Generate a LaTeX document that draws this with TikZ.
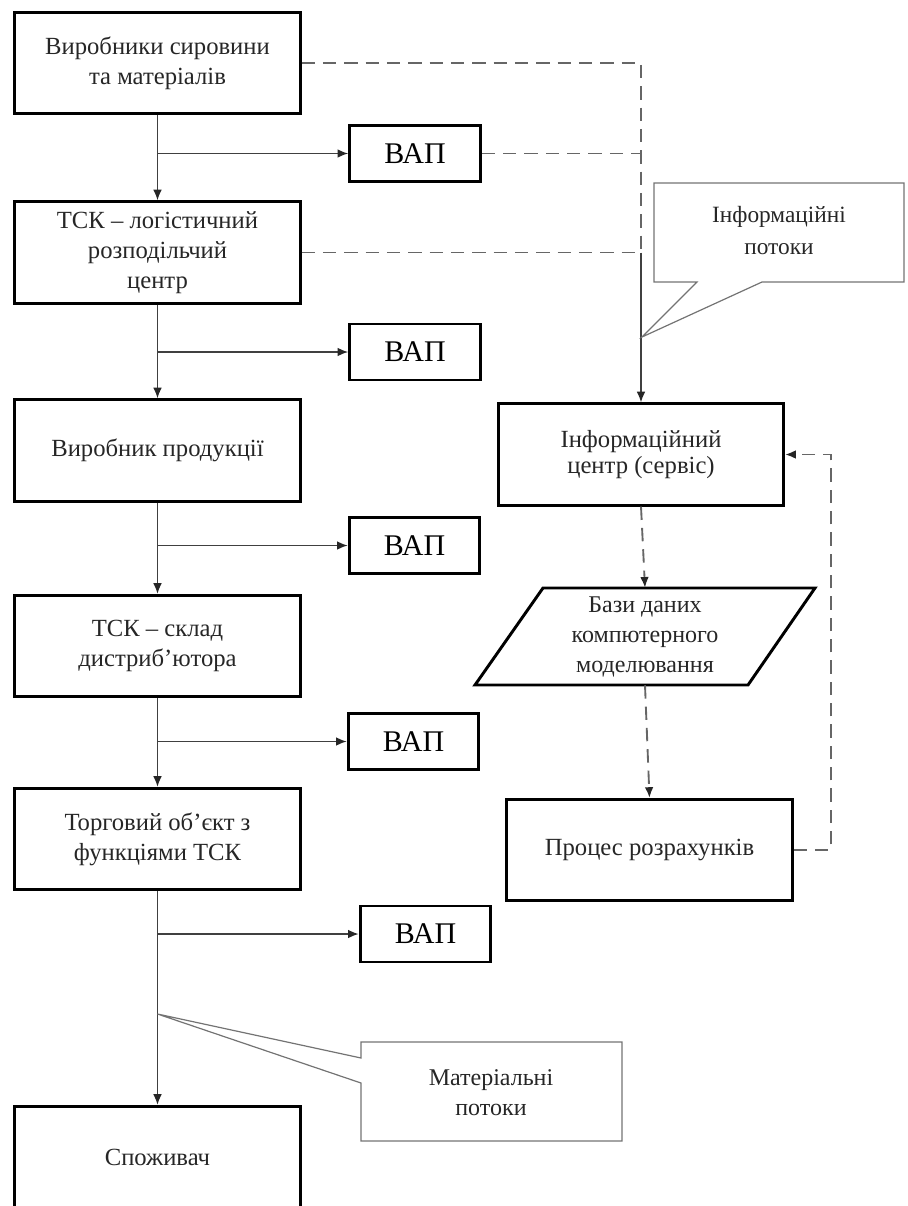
\documentclass[tikz,border=0pt]{standalone}
\usepackage{fontspec}
\setmainfont{Liberation Serif}
\usepackage{tikz}
\usetikzlibrary{arrows.meta}
\tikzset{blok/.style={draw, line width=2.2pt, minimum width=214pt, minimum height=76pt, align=center,
		font=\fontsize{18.5}{22.5}\selectfont, text=black!85},
	vap/.style={draw, line width=2.2pt, minimum width=98pt, minimum height=42pt,
		font=\fontsize{22.5}{26}\selectfont},
	strilka/.style={-{Latex[length=8pt,width=6.5pt,color=black!85]}},
	potik/.style={draw=black!75, line width=1.1pt, strilka},
	inf/.style={draw=black!60, line width=1.4pt, dash pattern=on 10pt off 6pt},
	vynoska/.style={draw=black!55, line width=0.9pt},
	napys/.style={align=center, font=\fontsize{18}{22.5}\selectfont, text=black!85}}

\begin{document}
\begin{tikzpicture}[x=0.75pt,y=-0.75pt]
		\clip (0,0) rectangle (907,1206);
		% ліва колонка
		\node[blok] (a) at (157.5,63) {Виробники сировини\\та матеріалів};
		\node[blok] (b) at (157.5,252.5) {ТСК – логістичний\\розподільчий\\центр};
		\node[blok] (c) at (157.5,450.5) {Виробник продукції};
		\node[blok] (d) at (157.5,646) {ТСК – склад\\дистриб'ютора};
		\node[blok] (e) at (157.5,839) {Торговий об'єкт з\\функціями ТСК};
		\node[blok] (f) at (157.5,1157) {Споживач};
		\node[vap] (v1) at (415,153.5) {ВАП};
		\node[vap] (v2) at (415,352) {ВАП};
		\node[vap] (v3) at (414.5,545.5) {ВАП};
		\node[vap] (v4) at (413.5,741.5) {ВАП};
		\node[vap] (v5) at (425.5,934) {ВАП};
		\draw[potik] (a) -- (b);
		\draw[potik] (b) -- (c);
		\draw[potik] (c) -- (d);
		\draw[potik] (d) -- (e);
		\draw[potik] (e) -- (f);
		\draw[potik] (a.south |- v1) -- (v1);
		\draw[potik] (b.south |- v2) -- (v2);
		\draw[potik] (c.south |- v3) -- (v3);
		\draw[potik] (d.south |- v4) -- (v4);
		\draw[potik] (e.south |- v5) -- (v5);
		% права колонка
		\node[blok, font=\fontsize{18.5}{19}\selectfont] (ic) at (641,454.5) {Інформаційний\\центр (сервіс)};
		\node[napys, inner sep=0pt, minimum height=72.75pt] (bd) at (645,636.5) {Бази даних\\компютерного\\моделювання};
		\draw[line width=2.2pt] (543,588) -- (815,588) -- (748,685) -- (475,685) -- cycle;
		\node[blok] (pr) at (649.5,850) {Процес розрахунків};
		\draw[inf] (a.east) -- (a.east -| ic.north) -- (b.east -| ic.north);
		\draw[inf] (v1.east) -- (v1.east -| ic.north);
		\draw[inf] (b.east) -- (b.east -| ic.north);
		\draw[potik] (b.east -| ic.north) -- (ic.north);
		\draw[inf, strilka] (ic.south) -- (bd.north);
		\draw[inf, strilka] (bd.south) -- (pr.north);
		\draw[inf, strilka] (pr.east) -- ++(37,0) |- (ic.east);
		% виноски
		\coordinate (ip) at (642,337);
		\draw[vynoska] (654,183) -- (904,183) -- (904,282) -- (762,282) -- (ip) -- (697,282) -- (654,282) -- cycle;
		\node[napys, font=\fontsize{17.5}{24}\selectfont] (it) at (779,231) {Інформаційні\\потоки};
		\coordinate (mp) at (157.5,1014);
		\draw[vynoska] (361,1042) -- (622,1042) -- (622,1141) -- (361,1141) -- (361,1083) -- (mp) -- (361,1058) -- cycle;
		\node[napys] (mt) at (491,1093) {Матеріальні\\потоки};
\end{tikzpicture}
\end{document}
